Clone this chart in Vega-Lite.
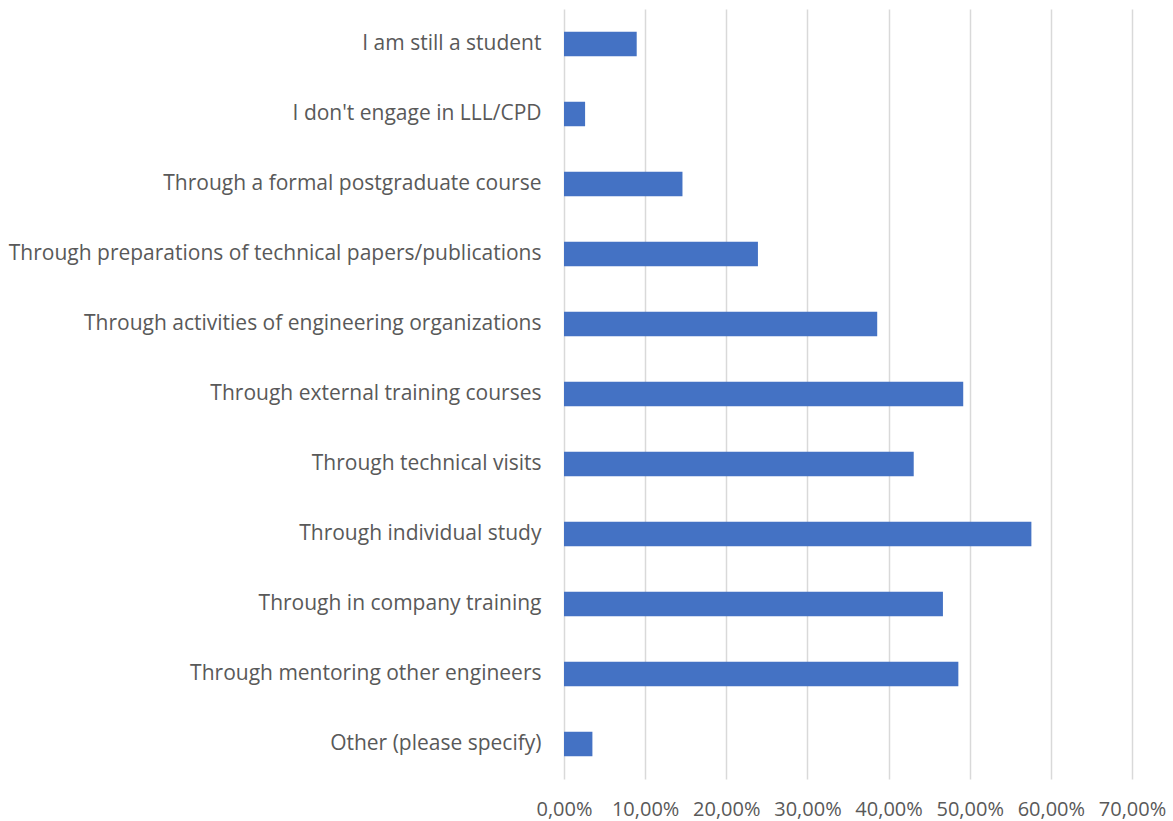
{
  "$schema": "https://vega.github.io/schema/vega-lite/v6.json",
  "autosize": "none",
  "padding": {"left": 564, "top": 9, "right": 41, "bottom": 42},
  "width": 568,
  "height": 770,
  "background": "white",
  "data": {
    "values": [
      {"option": "I am still a student", "share": 0.0896},
      {"option": "I don't engage in LLL/CPD", "share": 0.026},
      {"option": "Through a formal postgraduate course", "share": 0.146},
      {"option": "Through preparations of technical papers/publications", "share": 0.239},
      {"option": "Through activities of engineering organizations", "share": 0.386},
      {"option": "Through external training courses", "share": 0.492},
      {"option": "Through technical visits", "share": 0.431},
      {"option": "Through individual study", "share": 0.576},
      {"option": "Through in company training", "share": 0.467},
      {"option": "Through mentoring other engineers", "share": 0.486},
      {"option": "Other (please specify)", "share": 0.035}
    ]
  },
  "mark": {"type": "bar", "color": "#4472C4"},
  "encoding": {
    "y": {
      "field": "option",
      "type": "nominal",
      "sort": null,
      "title": null,
      "scale": {"paddingInner": 0.65, "paddingOuter": 0.325},
      "axis": {
        "domain": false,
        "ticks": false,
        "grid": false,
        "labelPadding": 23,
        "labelFont": "Open Sans",
        "labelFontSize": 21,
        "labelColor": "#595959",
        "labelLimit": 700
      }
    },
    "x": {
      "field": "share",
      "type": "quantitative",
      "title": null,
      "scale": {"domain": [0, 0.7], "nice": false},
      "axis": {
        "values": [0, 0.1, 0.2, 0.3, 0.4, 0.5, 0.6, 0.7],
        "labelExpr": "replace(format(datum.value, '.2%'), '.', ',')",
        "domain": false,
        "ticks": false,
        "grid": true,
        "gridColor": "#d9d9d9",
        "gridWidth": 1.5,
        "labelPadding": 30,
        "labelFont": "Open Sans",
        "labelFontSize": 20,
        "labelColor": "#595959",
        "labelBaseline": "middle",
        "labelFlush": false
      }
    }
  },
  "config": {"view": {"stroke": null}}
}
